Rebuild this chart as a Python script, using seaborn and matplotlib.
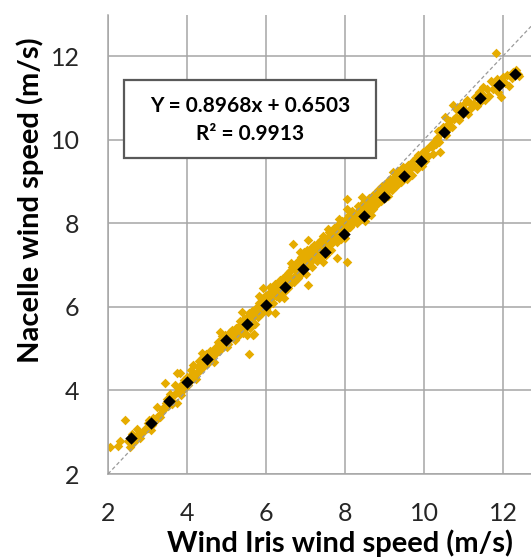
import matplotlib
matplotlib.use('Agg')
import matplotlib.pyplot as plt
import matplotlib.patches as mpatches
import seaborn as sns
import pandas as pd

# Valeurs (vitesse Wind Iris vs nacelle, m/s)
iris_speed = [
    2.05, 2.30, 2.25, 2.43, 2.56, 2.50, 2.62, 2.70, 2.74, 2.81, 2.66, 2.78,
    2.88, 2.95, 3.02, 3.05, 3.12, 3.15, 3.20, 3.23, 3.28, 3.32, 3.00, 3.10,
    3.38, 3.42, 3.44, 3.48, 3.52, 3.58, 3.60, 3.62, 3.66, 3.70, 3.74, 3.74, 3.50, 3.56,
    3.75, 3.80, 3.82, 3.86, 3.88, 3.92, 3.95, 3.99, 4.03, 4.05, 4.08, 4.12, 4.16, 4.18, 4.22, 4.25, 3.90, 4.10,
    4.28, 4.30, 4.33, 4.36, 4.40, 4.42, 4.45, 4.48, 4.52, 4.55, 4.58, 4.60, 4.63, 4.66, 4.70, 4.72, 4.38, 4.68,
    4.76, 4.78, 4.80, 4.84, 4.86, 4.90, 4.92, 4.95, 4.98, 5.02, 5.05, 5.08, 5.10, 5.14, 5.16, 5.20, 5.22, 5.25, 4.88, 5.00,
    5.28, 5.30, 5.32, 5.35, 5.38, 5.40, 5.42, 5.45, 5.48, 5.51, 5.52, 5.55, 5.57, 5.58, 5.60, 5.62, 5.65, 5.68, 5.70, 5.70, 5.72, 5.74, 5.35, 5.45,
    5.76, 5.78, 5.80, 5.83, 5.85, 5.88, 5.90, 5.93, 5.95, 5.98, 6.00, 6.02, 6.05, 6.08, 6.10, 6.12, 6.15, 6.18, 6.20, 6.23, 6.25, 5.82, 6.06, 6.22,
    6.28, 6.30, 6.32, 6.35, 6.38, 6.40, 6.42, 6.45, 6.48, 6.50, 6.52, 6.55, 6.58, 6.60, 6.62, 6.65, 6.68, 6.69, 6.70, 6.72, 6.36, 6.46, 6.56, 6.64,
    6.75, 6.77, 6.80, 6.82, 6.85, 6.88, 6.90, 6.92, 6.95, 6.98, 7.00, 7.03, 7.05, 7.07, 7.07, 7.10, 7.12, 7.15, 7.18, 7.20, 7.22, 6.86, 7.00, 7.16,
    7.25, 7.27, 7.30, 7.32, 7.35, 7.38, 7.40, 7.42, 7.45, 7.48, 7.50, 7.52, 7.55, 7.58, 7.60, 7.62, 7.65, 7.68, 7.70, 7.72, 7.44, 7.56, 7.66,
    7.74, 7.76, 7.79, 7.80, 7.82, 7.85, 7.88, 7.90, 7.92, 7.95, 7.98, 8.00, 8.02, 8.04, 8.04, 8.05, 8.08, 8.10, 8.12, 8.15, 8.18, 8.20, 8.22, 7.86, 8.06,
    8.25, 8.28, 8.30, 8.33, 8.35, 8.38, 8.40, 8.43, 8.45, 8.48, 8.50, 8.52, 8.55, 8.58, 8.60, 8.62, 8.65, 8.68, 8.70, 8.72, 8.42, 8.66,
    8.75, 8.78, 8.80, 8.83, 8.85, 8.88, 8.90, 8.93, 8.95, 8.98, 9.00, 9.03, 9.05, 9.08, 9.10, 9.13, 9.15, 9.18, 9.22, 9.20,
    9.25, 9.28, 9.30, 9.33, 9.36, 9.40, 9.43, 9.46, 9.50, 9.53, 9.56, 9.60, 9.63, 9.66, 9.70, 9.72,
    9.76, 9.80, 9.83, 9.86, 9.90, 9.94, 9.98, 10.02, 10.06, 10.10, 10.14, 10.19, 10.22, 10.26, 9.96,
    10.30, 10.34, 10.38, 10.41, 10.44, 10.48, 10.53, 10.55, 10.58, 10.62, 10.66, 10.70, 10.73, 10.75, 10.36,
    10.80, 10.84, 10.88, 10.92, 10.96, 11.00, 11.05, 11.08, 11.12, 11.16, 11.20,
    11.25, 11.30, 11.34, 11.38, 11.42, 11.46, 11.50, 11.55, 11.60, 11.64,
    11.70, 11.74, 11.78, 11.82, 11.85, 11.88, 11.92, 11.95, 12.00, 12.05, 12.10, 12.16,
    12.22, 12.26, 12.33, 12.38, 12.40,
]
nacelle_speed = [
    2.64, 2.79, 2.66, 3.28, 2.65, 2.78, 2.95, 2.88, 3.07, 2.85, 2.76, 2.98,
    3.00, 3.10, 3.09, 3.30, 3.18, 3.35, 3.26, 3.61, 3.42, 3.37, 3.22, 3.05,
    3.52, 3.60, 4.17, 3.70, 3.62, 3.85, 3.78, 3.68, 3.90, 4.13, 3.69, 3.95, 3.80, 3.92,
    4.42, 4.05, 4.41, 3.89, 4.15, 4.25, 4.08, 4.33, 4.13, 4.30, 4.22, 4.40, 4.61, 4.35, 4.28, 4.41, 4.00, 4.50,
    4.55, 4.70, 4.48, 4.62, 4.80, 4.58, 4.70, 4.88, 4.66, 4.85, 4.95, 4.75, 4.90, 4.82, 5.02, 4.88, 4.90, 4.68,
    5.00, 5.15, 4.95, 5.40, 5.10, 5.25, 5.05, 5.32, 5.15, 5.30, 5.10, 5.40, 5.25, 5.45, 5.28, 5.38, 5.20, 5.50, 5.30, 5.05,
    5.42, 5.30, 5.55, 5.45, 5.88, 5.60, 5.38, 5.70, 5.55, 5.33, 5.75, 5.62, 4.87, 5.85, 5.50, 5.70, 5.90, 5.33, 5.35, 5.78, 5.60, 5.95, 5.65, 5.48,
    5.85, 6.00, 5.75, 6.10, 5.92, 6.20, 5.85, 6.44, 6.05, 6.25, 5.95, 6.15, 6.30, 6.05, 6.48, 6.20, 6.35, 6.10, 6.42, 5.84, 6.25, 6.25, 5.88, 6.55,
    6.30, 6.45, 6.20, 6.28, 6.55, 6.40, 6.70, 6.35, 6.60, 6.52, 6.75, 6.45, 6.65, 6.85, 6.55, 6.95, 7.50, 6.70, 6.60, 6.90, 6.65, 6.22, 6.80, 7.05,
    6.75, 7.00, 6.70, 7.10, 6.85, 7.20, 6.80, 7.05, 7.30, 6.95, 7.15, 7.35, 7.00, 7.60, 6.52, 7.25, 7.08, 7.40, 7.15, 7.30, 7.48, 7.30, 6.78, 6.95,
    7.20, 7.40, 7.10, 7.52, 7.28, 7.60, 7.20, 7.45, 7.70, 7.38, 7.55, 7.25, 7.65, 7.42, 7.80, 7.50, 7.35, 7.70, 7.55, 7.88, 7.08, 7.85, 7.62,
    7.60, 7.80, 7.16, 7.55, 7.95, 7.70, 7.85, 7.62, 8.05, 7.80, 7.95, 7.65, 8.10, 7.08, 8.57, 7.85, 8.00, 8.20, 7.90, 8.05, 8.30, 8.00, 8.15, 8.10, 8.35,
    8.05, 8.25, 8.00, 8.40, 8.15, 8.30, 8.10, 8.45, 8.25, 8.38, 8.05, 8.50, 8.30, 8.42, 8.22, 8.60, 8.40, 8.55, 8.35, 8.68, 8.62, 8.20,
    8.50, 8.70, 8.45, 8.80, 8.60, 8.75, 8.52, 8.90, 8.70, 8.85, 8.60, 8.95, 8.75, 8.88, 8.65, 9.05, 8.85, 9.00, 9.23, 8.80,
    8.95, 9.12, 8.90, 9.25, 9.05, 9.20, 8.98, 9.35, 9.10, 9.28, 9.05, 9.40, 9.20, 9.32, 9.15, 9.48,
    9.35, 9.55, 9.30, 9.62, 9.42, 9.58, 9.70, 9.50, 9.75, 9.60, 9.85, 9.83, 9.65, 9.95, 9.38,
    9.90, 10.05, 9.95, 9.71, 10.15, 10.30, 10.55, 10.10, 10.35, 10.25, 10.45, 10.30, 10.83, 10.50, 10.20,
    10.55, 10.70, 10.48, 10.80, 10.60, 10.85, 10.70, 10.95, 10.62, 10.88, 10.75,
    10.85, 11.02, 10.80, 11.15, 10.90, 11.10, 11.25, 10.95, 11.20, 11.05,
    11.39, 11.20, 11.35, 12.08, 11.45, 11.15, 11.40, 11.03, 11.50, 11.35, 11.55, 11.28,
    11.48, 11.62, 11.67, 11.58, 11.52,
]

# Moyennes par classe (losanges noirs)
bin_iris = [2.58, 3.08, 3.55, 3.99, 4.50, 4.99, 5.51, 5.99, 6.48, 6.93, 7.49,
            7.97, 8.49, 8.98, 9.49, 9.92, 10.51, 10.99, 11.42, 11.90, 12.30]
bin_nacelle = [2.86, 3.21, 3.75, 4.19, 4.75, 5.21, 5.59, 6.04, 6.47, 6.90, 7.30,
               7.74, 8.17, 8.62, 9.13, 9.49, 10.17, 10.65, 10.99, 11.31, 11.57]

tick_values = [2, 4, 6, 8, 10, 12]
eq_line = "Y = 0.8968x + 0.6503"
r2_line = "R² = 0.9913"

df = pd.DataFrame({'iris': iris_speed, 'nacelle': nacelle_speed})
df_bins = pd.DataFrame({'iris': bin_iris, 'nacelle': bin_nacelle})

sns.set_style("white")
plt.rcParams['font.family'] = ['Lato', 'DejaVu Sans']

W, H = 531, 558
fig = plt.figure(figsize=(W / 100, H / 100), dpi=100)
ax = fig.add_axes([108 / W, 84 / H, 423 / W, 459 / H])

grid_col = '#A6A6A6'
ax.set_axisbelow(True)
ax.grid(True, color=grid_col, linewidth=1.1)

sns.scatterplot(data=df, x='iris', y='nacelle', ax=ax, marker='D', s=24,
                color='#E6AC00', linewidth=0, zorder=2)
ax.axline((2, 2), slope=1, color='#9A9A9A', linewidth=0.9,
          linestyle=(0, (3, 2)), zorder=3)
sns.scatterplot(data=df_bins, x='iris', y='nacelle', ax=ax, marker='D', s=40,
                color='black', linewidth=0, zorder=4)

ax.set_xlim(2, 2 + 423 / 39.5)
ax.set_ylim(2, 2 + 459 / 41.8)
ax.set_xticks(tick_values)
ax.set_yticks(tick_values)
ax.set_xlabel('')
ax.set_ylabel('')

for side in ['top', 'right']:
    ax.spines[side].set_visible(False)
for side in ['left', 'bottom']:
    ax.spines[side].set_color(grid_col)
    ax.spines[side].set_linewidth(1.1)

ax.tick_params(direction='out', length=6.5, width=1.1, color=grid_col,
               pad=14, labelsize=18, labelcolor='#262626')

fig.text(340 / W, 1 - 543 / H, 'Wind Iris wind speed (m/s)', ha='center',
         va='center', fontsize=21, fontweight='bold', color='black')
fig.text(30 / W, 1 - 200 / H, 'Nacelle wind speed (m/s)', ha='center',
         va='center', rotation=90, fontsize=21, fontweight='bold', color='black')

# Cadre de l'équation
box = mpatches.Rectangle((124 / W, 1 - 158 / H), 252 / W, 78 / H,
                         transform=fig.transFigure, facecolor='white',
                         edgecolor='#595959', linewidth=1.6, zorder=5)
fig.patches.append(box)
fig.text(250 / W, 1 - 106 / H, eq_line, ha='center', va='center',
         fontsize=15, fontweight='bold', color='black', zorder=6)
fig.text(250 / W, 1 - 134 / H, r2_line, ha='center', va='center',
         fontsize=15, fontweight='bold', color='black', zorder=6)

fig.savefig('out.png', dpi=100)
